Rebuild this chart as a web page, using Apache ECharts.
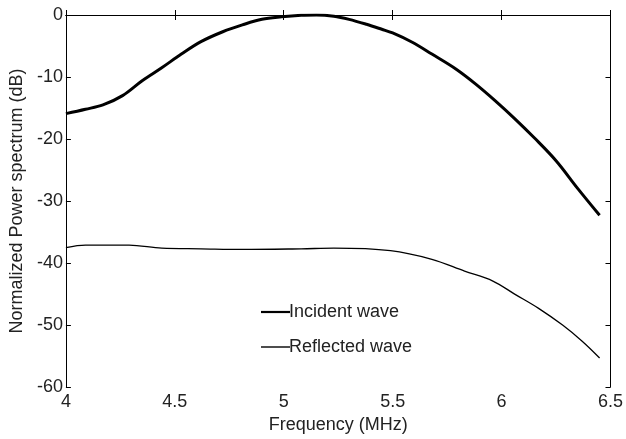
<!DOCTYPE html>
<html>
<head>
<meta charset="utf-8">
<script src="https://cdn.jsdelivr.net/npm/echarts@6/dist/echarts.min.js"></script>
<style>html,body{margin:0;padding:0;background:#fff}#c{width:626px;height:439px}</style>
</head>
<body>
<div id="c"></div>
<script>
var xTicks = [4, 4.5, 5, 5.5, 6, 6.5];
var yTicks = [-60, -50, -40, -30, -20, -10, 0];
var incidentX = [4.0, 4.09, 4.17, 4.26, 4.35, 4.44, 4.53, 4.62, 4.72, 4.81, 4.90, 4.99, 5.08, 5.15, 5.23, 5.30, 5.38, 5.45, 5.50, 5.59, 5.68, 5.79, 5.88, 5.97, 6.06, 6.15, 6.25, 6.35, 6.45];
var incidentY = [-15.9, -15.2, -14.5, -13.0, -10.6, -8.5, -6.3, -4.3, -2.7, -1.6, -0.7, -0.3, -0.05, 0.0, -0.2, -0.7, -1.5, -2.3, -2.9, -4.4, -6.3, -8.7, -11.1, -13.8, -16.7, -19.8, -23.5, -28.0, -32.3];
var reflectedX = [4.0, 4.09, 4.29, 4.44, 4.62, 4.81, 5.08, 5.23, 5.49, 5.68, 5.83, 5.96, 6.06, 6.17, 6.28, 6.37, 6.45];
var reflectedY = [-37.5, -37.1, -37.1, -37.6, -37.7, -37.8, -37.7, -37.6, -38.0, -39.4, -41.3, -42.9, -45.0, -47.3, -50.0, -52.6, -55.3];
var seriesNames = ['Incident wave', 'Reflected wave'];

function pairs(xs, ys) { return xs.map(function (x, i) { return [x, ys[i]]; }); }

var font = 'Liberation Sans, Arial, Helvetica, sans-serif';
var fs = 18;
var baseAxis = {
  min: xTicks[0], max: xTicks[xTicks.length - 1], interval: 0.5,
  axisLine: { show: true, lineStyle: { color: '#000', width: 1 } },
  axisTick: { show: true, inside: true, length: 5, lineStyle: { color: '#000' } },
  splitLine: { show: false }
};
var baseY = {
  type: 'value', min: yTicks[0], max: yTicks[yTicks.length - 1], interval: 10,
  axisLine: { show: true, lineStyle: { color: '#000', width: 1 } },
  axisTick: { show: true, inside: true, length: 5, lineStyle: { color: '#000' } },
  splitLine: { show: false }
};
function legendOf(name, top, h) {
  return {
    orient: 'vertical', left: 256, top: top, itemWidth: 29, itemHeight: h, icon: 'rect',
    itemStyle: { color: '#000', borderWidth: 0 },
    textStyle: { fontSize: fs, color: '#222', fontFamily: font, padding: [0, 0, 0, -6] },
    data: [name]
  };
}
var chart = echarts.init(document.getElementById('c'), null, { renderer: 'canvas' });
chart.setOption({
  animation: false,
  backgroundColor: '#fff',
  textStyle: { fontFamily: font },
  grid: { left: 63, right: 13, top: 15, bottom: 46, containLabel: false },
  legend: [legendOf(seriesNames[0], 298, 2.2), legendOf(seriesNames[1], 333, 1.4)],
  xAxis: [
    Object.assign({}, baseAxis, {
      type: 'value', position: 'bottom',
      name: 'Frequency (MHz)', nameLocation: 'middle', nameGap: 24,
      nameTextStyle: { fontSize: fs, color: '#222', fontFamily: font },
      axisLabel: { show: true, fontSize: fs, color: '#222', margin: 6, fontFamily: font,
        formatter: function (v) { return String(v); } }
    }),
    Object.assign({}, baseAxis, { type: 'value', position: 'top', axisLabel: { show: false } })
  ],
  yAxis: [
    Object.assign({}, baseY, {
      position: 'left',
      name: 'Normalized Power spectrum (dB)', nameLocation: 'middle', nameGap: 38,
      nameTextStyle: { fontSize: fs, color: '#222', fontFamily: font },
      axisLabel: { show: true, fontSize: fs, color: '#222', margin: 3, fontFamily: font }
    }),
    Object.assign({}, baseY, { position: 'right', axisLabel: { show: false } })
  ],
  series: [
    {
      name: seriesNames[0], type: 'line', xAxisIndex: 0, yAxisIndex: 0,
      data: pairs(incidentX, incidentY), smooth: 0.35, symbol: 'none',
      lineStyle: { color: '#000', width: 3 }, itemStyle: { color: '#000' }
    },
    {
      name: seriesNames[1], type: 'line', xAxisIndex: 0, yAxisIndex: 0,
      data: pairs(reflectedX, reflectedY), smooth: 0.35, symbol: 'none',
      lineStyle: { color: '#000', width: 1.3 }, itemStyle: { color: '#000' }
    }
  ]
});
</script>
</body>
</html>
